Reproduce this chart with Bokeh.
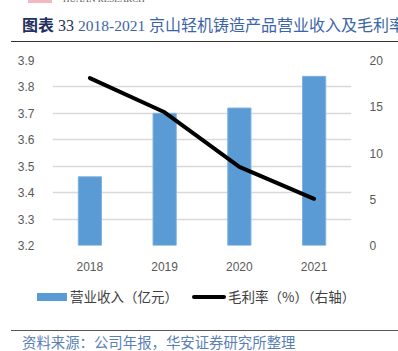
from bokeh.plotting import figure
from bokeh.models import FactorRange, Range1d, LinearAxis, FixedTicker, Div
from bokeh.layouts import column
from bokeh.embed import file_html
from bokeh.resources import INLINE

years = ["2018", "2019", "2020", "2021"]
revenue = [3.46, 3.70, 3.72, 3.84]        # 营业收入（亿元）
margin = [18.1, 14.4, 8.5, 5.05]           # 毛利率（%）
left_ticks = [3.2, 3.3, 3.4, 3.5, 3.6, 3.7, 3.8, 3.9]
right_ticks = [0, 5, 10, 15, 20]
title_num = "图表 33"
title_years = "2018-2021"
title_text = "京山轻机铸造产品营业收入及毛利率"
legend_bar = "营业收入（亿元）"
legend_line = "毛利率（%）（右轴）"
source_text = "资料来源：公司年报，华安证券研究所整理"

W = 398
TICK_FONT = "Liberation Sans"
CJK = "Noto Sans CJK SC"
BAR_COLOR = "#5b9bd5"

# ---------- header ----------
header_html = f"""
<div style="position:relative;width:{W}px;height:50px;overflow:hidden;">
  <div style="position:absolute;left:28px;top:0px;width:24px;height:3px;background:#f3b8c0;"></div>
  <div style="position:absolute;left:63px;top:-7px;font-family:'Liberation Serif';font-size:9px;
       color:#555555;white-space:nowrap;">HUAAN RESEARCH</div>
  <div style="position:absolute;left:22px;top:14px;white-space:nowrap;font-size:16px;line-height:20px;">
    <span style="color:#1f2f5e;font-weight:bold;font-family:'{CJK}';">{title_num[:2]}</span><span
     style="color:#1f2f5e;font-family:'Liberation Serif';font-size:16px;"> {title_num[3:]} </span><span
     style="color:#3c64a8;font-family:'Liberation Serif';font-size:15.5px;">{title_years} </span><span
     style="color:#3c64a8;font-family:'{CJK}';">{title_text}</span>
  </div>
  <div style="position:absolute;left:11px;top:41px;width:{W - 11}px;height:0px;
       border-top:1.5px solid #333333;"></div>
</div>
"""
h = Div(text=header_html, width=W, height=50, margin=0)

# ---------- main ----------
p = figure(width=W, height=225, x_range=FactorRange(*years), y_range=Range1d(3.2, 3.9),
           output_backend="svg", toolbar_location=None,
           min_border_left=52, min_border_right=47, min_border_top=10, min_border_bottom=30)
p.outline_line_color = None
p.extra_y_ranges = {"right": Range1d(0, 20)}

p.vbar(x=years, top=revenue, bottom=3.2, width=0.31, fill_color=BAR_COLOR,
       line_color="#7fb0e0", line_width=1)
p.line(x=years, y=margin, y_range_name="right", line_color="#000000", line_width=4,
       line_join="round", line_cap="round")

p.yaxis.ticker = FixedTicker(ticks=left_ticks)
p.ygrid.ticker = FixedTicker(ticks=left_ticks)
p.ygrid.grid_line_color = "#d9d9d9"
p.ygrid.grid_line_width = 1.5
p.xgrid.visible = False

ra = LinearAxis(y_range_name="right", ticker=FixedTicker(ticks=right_ticks))
p.add_layout(ra, "right")

for ax in [p.yaxis[0], ra, p.xaxis[0]]:
    ax.axis_line_color = None
    ax.major_tick_line_color = None
    ax.minor_tick_line_color = None
    ax.major_label_text_font = TICK_FONT
    ax.major_label_text_font_size = "12px"
    ax.major_label_text_color = "#595959"
p.yaxis[0].major_label_standoff = 12
ra.major_label_standoff = 12
p.xaxis[0].major_label_standoff = 10

# ---------- legend ----------
legend_html = f"""
<div style="position:relative;width:{W}px;height:40px;overflow:hidden;font-family:'{CJK}';
     font-size:13.5px;color:#404040;">
  <div style="position:absolute;left:37px;top:18px;width:30px;height:8px;background:{BAR_COLOR};"></div>
  <div style="position:absolute;left:70px;top:12px;line-height:18px;white-space:nowrap;">{legend_bar}</div>
  <div style="position:absolute;left:192px;top:20px;width:34px;height:4px;background:#000000;
       border-radius:2px;"></div>
  <div style="position:absolute;left:228px;top:12px;line-height:18px;white-space:nowrap;">{legend_line}</div>
</div>
"""
lg = Div(text=legend_html, width=W, height=40, margin=0)

# ---------- footer ----------
footer_html = f"""
<div style="position:relative;width:{W}px;height:36px;overflow:hidden;">
  <div style="position:absolute;left:11px;top:15px;width:{W - 11}px;height:0px;
       border-top:1.2px solid #555555;"></div>
  <div style="position:absolute;left:22px;top:18px;white-space:nowrap;font-family:'{CJK}';
       font-size:14.4px;line-height:17px;color:#5a7fb5;">{source_text}</div>
</div>
"""
f = Div(text=footer_html, width=W, height=36, margin=0)

layout = column(h, p, lg, f, spacing=0)
open("out.html", "w").write(file_html(layout, INLINE))
